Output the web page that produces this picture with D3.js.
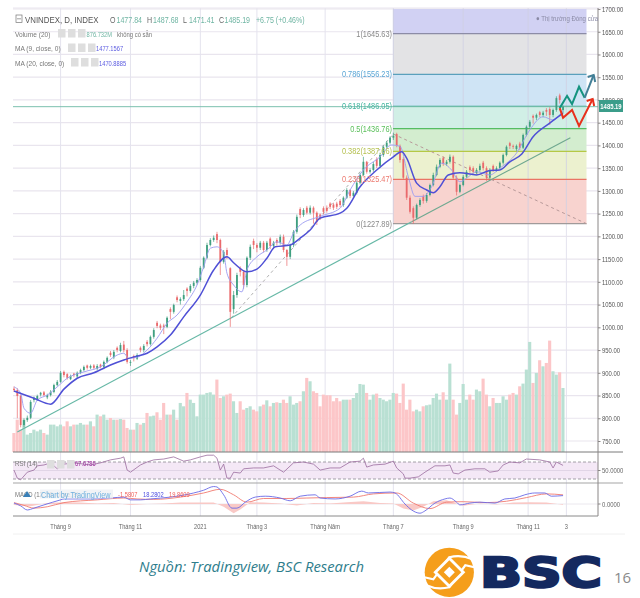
<!DOCTYPE html>
<html>
<head>
<meta charset="utf-8">
<script src="https://cdn.jsdelivr.net/npm/d3@7"></script>
<style>
  html, body { margin: 0; padding: 0; background: #fff; }
  svg { display: block; }
  .chart { filter: blur(0.45px); }
  text { font-family: "Liberation Sans", sans-serif; }
</style>
</head>
<body>
<div id="chart"></div>
<script>
// candles, every second trading day
const opens = [
  865,862,849,785,796,801,840,841,852,857,
  846,851,858,873,880,902,897,886,898,892,
  900,906,916,911,916,909,918,913,924,944,
  934,955,948,962,950,922,937,931,955,950,
  968,963,979,1010,1004,1004,1001,1040,1034,1066,
  1058,1062,1085,1080,1091,1098,1104,1131,1153,1181,
  1192,1205,1192,1144,1170,1130,1040,1071,1130,1122,
  1093,1153,1190,1181,1175,1186,1170,1195,1179,1192,
  1186,1199,1170,1155,1181,1210,1260,1247,1263,1252,
  1263,1252,1248,1262,1263,1272,1270,1272,1278,1269,
  1285,1302,1289,1296,1318,1335,1364,1342,1346,1370,
  1355,1379,1397,1406,1417,1425,1399,1370,1329,1285,
  1262,1241,1269,1288,1278,1291,1313,1335,1353,1372,
  1359,1364,1375,1329,1298,1313,1331,1352,1350,1340,
  1346,1362,1350,1329,1355,1346,1350,1362,1379,1405,
  1399,1392,1404,1395,1423,1441,1465,1461,1473,1467,
  1478,1480,1467,1478,1510,1477.84];
const highs = [
  870,866,852,800,806,840,848,852,858,860,
  854,862,876,884,904,905,899,896,900,903,
  909,916,918,918,919,919,920,927,936,948,
  950,958,966,970,954,928,940,943,958,963,
  972,982,998,1014,1008,1008,1024,1044,1052,1070,
  1066,1082,1088,1095,1102,1108,1135,1156,1186,1196,
  1202,1210,1195,1170,1175,1132,1080,1120,1134,1126,
  1156,1182,1195,1185,1190,1190,1190,1198,1190,1196,
  1204,1204,1172,1184,1214,1248,1264,1262,1267,1268,
  1266,1255,1250,1266,1268,1275,1274,1276,1282,1288,
  1306,1304,1300,1322,1340,1375,1366,1350,1364,1374,
  1384,1400,1410,1420,1428,1428,1402,1374,1334,1290,
  1266,1272,1284,1292,1295,1316,1340,1358,1372,1376,
  1368,1380,1378,1334,1316,1335,1346,1356,1354,1350,
  1360,1366,1354,1350,1358,1354,1365,1382,1400,1408,
  1402,1402,1408,1426,1444,1456,1468,1470,1476,1476,
  1482,1484,1481,1508,1514,1487.68];
const lows = [
  858,800,780,780,792,798,835,838,848,848,
  842,848,855,870,878,890,885,884,890,888,
  897,903,907,908,907,905,910,908,921,935,
  930,945,945,945,920,915,925,928,945,945,
  958,960,975,998,994,985,998,1018,1030,1055,
  1050,1058,1068,1076,1086,1094,1100,1128,1150,1178,
  1188,1185,1115,1140,1150,1001,1030,1065,1112,1085,
  1088,1148,1172,1165,1170,1165,1166,1172,1172,1180,
  1182,1165,1135,1150,1176,1206,1240,1243,1248,1248,
  1228,1225,1236,1248,1252,1260,1258,1260,1264,1265,
  1282,1284,1284,1292,1314,1332,1338,1338,1342,1350,
  1350,1375,1392,1402,1412,1396,1362,1325,1280,1250,
  1228,1238,1265,1272,1274,1288,1310,1332,1350,1355,
  1355,1360,1325,1290,1295,1310,1328,1340,1338,1336,
  1342,1345,1322,1325,1342,1342,1347,1358,1376,1392,
  1392,1388,1390,1392,1420,1438,1448,1456,1462,1462,
  1465,1445,1462,1474,1492,1471.41];
const closes = [
  862,849,785,796,801,836,845,849,856,851,
  851,858,873,880,900,895,889,893,895,900,
  906,913,911,915,911,915,913,924,933,939,
  946,950,961,950,924,924,933,939,950,959,
  963,979,994,1003,999,1001,1021,1034,1049,1060,
  1062,1071,1080,1091,1098,1104,1131,1153,1181,1192,
  1197,1192,1144,1166,1159,1034,1071,1115,1122,1093,
  1153,1177,1181,1175,1186,1170,1186,1179,1186,1186,
  1199,1170,1155,1181,1210,1243,1247,1258,1252,1263,
  1252,1232,1241,1254,1256,1265,1263,1265,1269,1285,
  1302,1289,1296,1318,1335,1364,1342,1346,1359,1355,
  1379,1397,1406,1417,1421,1399,1368,1329,1285,1254,
  1241,1269,1280,1278,1291,1313,1335,1353,1368,1359,
  1364,1375,1329,1298,1313,1331,1342,1346,1342,1346,
  1355,1350,1329,1346,1346,1350,1362,1379,1397,1399,
  1397,1399,1395,1423,1441,1452,1461,1467,1467,1472,
  1474,1467,1478,1504,1500,1485.19];
// volume in millions
const volumes = [
  260,443,306,443,238,260,306,283,306,260,
  238,375,375,352,375,352,420,352,375,375,
  398,375,375,420,352,512,489,512,443,466,
  443,443,452,443,329,306,306,398,375,398,
  535,489,498,544,443,672,512,512,580,443,
  672,626,809,717,672,489,786,786,809,818,
  786,992,740,763,786,800,695,535,695,580,
  603,626,580,557,626,649,708,626,672,681,
  672,717,672,763,649,672,695,832,1015,969,
  832,809,626,786,777,777,695,740,695,717,
  717,717,740,809,932,923,809,717,786,800,
  740,717,695,717,809,800,672,937,580,717,
  557,580,557,626,640,649,740,800,717,818,
  717,1211,717,512,672,932,717,786,717,855,
  832,1005,786,626,740,672,672,763,717,786,
  809,786,900,937,1129,1508,946,1083,1257,1174,
  1220,1526,1106,1060,1092,876.7];

const ma20Days = [0,6,11,15,19,24,29,33,36,40,43,47,51,56,60,64,66,70,73,76,78.5,83,86,89,92,98,100,104,109,114,116.5,118,121,124,126,128,130.5,134,139,143,146,149,152.6,156,161,165];
const ma20Values = [860,844,831,864,888,900,917,928,935,943,957,983,1023,1071,1126,1155,1142,1122,1128,1152,1177,1181,1196,1214,1240,1251,1262,1309,1346,1375,1386,1372,1317,1302,1296,1309,1335,1340,1335,1345,1346,1364,1381,1419,1449,1470.89];
const ma9Days = [0,2,3,5,7,10,13,16,21,26,31,33,34.5,37,40,43,46,49,52,55,57,59,61,63,64,66,68.5,70,73,76,79,82,84,86,92,98,101,105,110,113.5,116,118.5,120.5,123,125.5,128.5,131.5,134,136,139,143,146,151,155,159,162,165];
const ma9Values = [869,855,822,811,840,851,869,888,902,913,939,943,932,934,950,976,1009,1027,1056,1093,1133,1174,1177,1163,1119,1093,1078,1126,1155,1170,1188,1181,1207,1225,1244,1262,1302,1346,1375,1401,1398,1331,1288,1288,1309,1361,1346,1320,1328,1342,1335,1350,1383,1434,1463,1456,1477.16];

const rsiDays = [0,1,2,4,6,7,9,11,13,14,15,18,23,26,29,32,33,34,35,38,40,42,45,48,51,53,56,58,60,61,62,63,64,65,66,68,69,72,75,78,81,84,87,90,92,95,98,101,104,105,106,108,111.5,114,115,117,117.5,119,121.5,123.5,126.5,129.5,131,132,133.5,135.5,138.5,141.5,143,145.5,147,149,152,153.5,154,158,161,162,163,165];
const rsiValues = [51,32,28,46,51,61,63,68,54,61,65,68,63,68,75,79,82,51,46,63,70,75,77,82,72,75,82,86,86,79,51,65,32,32,46,44,54,56,56,61,46,68,70,65,51,56,56,70,72,79,58,63,65,72,56,42,32,32,35,46,61,61,63,44,42,51,54,54,46,49,63,70,68,75,77,75,70,56,70,62];

const macdDays = [0,2,4,6,9,14,15,23,29,33,35,38,41,47,54,57,60,61,63,65.5,67,69.5,72.5,75.5,80,83,86,90.5,92,96.5,101,104.5,106.5,113,114.5,117.5,119.5,122,123.5,126.5,129.5,131,133,134,137,140,144.5,147.5,150.5,153.5,156.5,159.5,161.5,165];
const macdValues = [2,-4,-13,-9,-2,9,11,11,13,15,9,9,11,15,24,30,38,37,20,-9,-9,4,15,17,13,7,17,20,13,11,17,28,24,26,24,0,-13,-20,-15,2,11,13,4,-2,2,4,2,11,13,20,24,24,17,18.28];
const signalDays = [0,3,6,10,15,25,33,37,42,50,57,62,66,70,75,82,88,94,102,108,115,120,125,130,135,142,148,154,160,165];
const signalValues = [3,-3,-9,-6,3,9,13,11,10,15,24,32,20,4,12,12,13,14,15,22,24,2,-10,4,5,3,6,14,22,19.86];
const histDays = [0,5,10,15,20,25,30,35,40,45,50,55,60,63,66,68,71,75,80,85,90,95,100,105,110,114,117,120,123,126,130,135,140,145,150,155,160,165];
const histValues = [-2,-5,2,4,3,1,2,-2,0,1,3,3,3,-6,-20,-12,4,3,1,-3,2,1,4,6,2,1,-10,-14,-6,6,8,-4,1,-1,3,4,3,-1.58];

const priceTicks = [750,800,850,900,950,1000,1050,1100,1150,1200,1250,1300,1350,1400,1450,1500,1550,1600,1650,1700];
const timeTicks = [14,35,56,73,93.5,114,135,154.5,166];
const timeLabels = ["Tháng 9","Tháng 11","2021","Tháng 3","Tháng Năm","Tháng 7","Tháng 9","Tháng 11","3"];

const fibPrices = [1645.63,1556.23,1486.05,1436.76,1387,1325.47,1227.89];
const fibLabels = ["1(1645.63)","0.786(1556.23)","0.618(1486.05)","0.5(1436.76)","0.382(1387.66)","0.236(1325.47)","0(1227.89)"];
const fibLineColors = ["#8c8ca6","#5aa0bc","#35a58e","#55bd62","#b5c845","#ea7464","#a09a9a"];
const fibTextColors = ["#8a8a8a","#5aa5d5","#45b5a0","#5cc05c","#b5c050","#ec7a70","#8a8a8a"];
const fibFills = ["#d1d1f3","#e3e3e5","#cfe4f5","#d1efe6","#d3edcf","#ecf1cf","#f8d3cf"];

const teal1Days = [164,166.2,167.7,169.8,171.5], teal1Prices = [1482,1509,1491,1529,1505];
const blueDays = [171.5,174.2], bluePrices = [1505,1555];
const redDays = [164,165,167.7,169.8,173.9], redPrices = [1482,1461,1478,1443,1502];

const width = 640, height = 598;
const plotLeft = 13, plotRight = 598, plotTop = 8, mainBottom = 452, rsiBottom = 483, plotBottom = 516;

const svg = d3.select("#chart").append("svg").attr("width", width).attr("height", height);
const g = svg.append("g").attr("class", "chart");

const x = d3.scaleLinear().domain([-0.3, 175.5]).range([plotLeft, plotRight]);
const y = d3.scaleLinear().domain([750, 1700]).range([441, 9]);
const yVol = d3.scaleLinear().domain([0, 1000]).range([mainBottom, mainBottom - 73]);
const yRsi = d3.scaleLinear().domain([30, 70]).range([479, 462]);
const yMacd = d3.scaleLinear().domain([0, 18.28]).range([504, 495.6]);

// grid
g.selectAll(".hgrid").data(priceTicks).enter().append("line")
  .attr("x1", plotLeft).attr("x2", plotRight).attr("y1", d => y(d)).attr("y2", d => y(d))
  .attr("stroke", "#e9e5ee").attr("stroke-width", 1.2);
g.selectAll(".vgrid").data(timeTicks).enter().append("line")
  .attr("x1", d => x(d)).attr("x2", d => x(d)).attr("y1", plotTop).attr("y2", plotBottom)
  .attr("stroke", "#e4e3ee").attr("stroke-width", 1);

// fibonacci zones
const fibLeft = 393, fibRight = 586.5;
const fibTops = [1700].concat(fibPrices.slice(0, -1));
const fibBottoms = fibPrices.slice();
g.selectAll(".fibzone").data(fibFills).enter().append("rect")
  .attr("x", fibLeft).attr("width", fibRight - fibLeft)
  .attr("y", (d, i) => y(fibTops[i])).attr("height", (d, i) => y(fibBottoms[i]) - y(fibTops[i]))
  .attr("fill", d => d);
g.selectAll(".vgrid2").data(timeTicks.filter(d => x(d) > fibLeft && x(d) < fibRight)).enter().append("line")
  .attr("x1", d => x(d)).attr("x2", d => x(d)).attr("y1", plotTop).attr("y2", 224)
  .attr("stroke", "#cfd0e2").attr("stroke-width", 0.8);
g.selectAll(".fibline").data(fibPrices).enter().append("line")
  .attr("x1", fibLeft).attr("x2", fibRight).attr("y1", d => y(d)).attr("y2", d => y(d))
  .attr("stroke", (d, i) => fibLineColors[i]).attr("stroke-width", 1.2);

// last price line
g.append("line").attr("x1", plotLeft).attr("x2", plotRight).attr("y1", y(1485.19)).attr("y2", y(1485.19))
  .attr("stroke", "#7cc0ae").attr("stroke-width", 1);

// volume
const barW = x(1) - x(0);
const isUp = i => closes[i] >= opens[i];
g.selectAll(".vol").data(volumes).enter().append("rect")
  .attr("x", (d, i) => x(i) - barW / 2).attr("width", barW - 0.2)
  .attr("y", d => yVol(d)).attr("height", d => mainBottom - yVol(d))
  .attr("fill", (d, i) => isUp(i) ? "#b9e0d3" : "#fcc6c8");

// dashed helper lines
const dashLine = d3.line().x(d => x(d[0])).y(d => y(d[1]));
g.append("path").attr("d", dashLine([[65.3,1021],[114,1425]]))
  .attr("fill", "none").attr("stroke", "#a8a8a8").attr("stroke-width", 0.9).attr("stroke-dasharray", "3,3");
g.append("path").attr("d", dashLine([[114,1425],[172,1228]]))
  .attr("fill", "none").attr("stroke", "#b89a9a").attr("stroke-width", 1).attr("stroke-dasharray", "3,3");

// trend lines
g.append("path").attr("d", dashLine([[1,770],[119.5,1232]]))
  .attr("fill", "none").attr("stroke", "#66b8a6").attr("stroke-width", 1.2);
g.append("path").attr("d", dashLine([[119.5,1232],[167.2,1417]]))
  .attr("fill", "none").attr("stroke", "#6fa890").attr("stroke-width", 1.2);

// candles
const candleColor = i => isUp(i) ? "#3f9f80" : "#ea6a6c";
g.selectAll(".wick").data(closes).enter().append("line")
  .attr("x1", (d, i) => x(i)).attr("x2", (d, i) => x(i))
  .attr("y1", (d, i) => y(highs[i])).attr("y2", (d, i) => y(lows[i]))
  .attr("stroke", (d, i) => candleColor(i)).attr("stroke-width", 0.7);
g.selectAll(".body").data(closes).enter().append("rect")
  .attr("x", (d, i) => x(i) - 0.9).attr("width", 1.8)
  .attr("y", (d, i) => y(Math.max(opens[i], d)))
  .attr("height", (d, i) => Math.max(0.8, Math.abs(y(opens[i]) - y(d))))
  .attr("fill", (d, i) => candleColor(i));

// moving averages
const pairLine = d3.line().x(d => x(d[0])).y(d => y(d[1])).curve(d3.curveMonotoneX);
g.append("path").attr("d", pairLine(d3.zip(ma9Days, ma9Values)))
  .attr("fill", "none").attr("stroke", "#9b9bf0").attr("stroke-width", 0.9);
g.append("path").attr("d", pairLine(d3.zip(ma20Days, ma20Values)))
  .attr("fill", "none").attr("stroke", "#4f50d6").attr("stroke-width", 1.5);

// forecast arrows
function arrowPath(days, prices, color, head) {
  g.append("path").attr("d", d3.line().x(d => x(d[0])).y(d => y(d[1]))(d3.zip(days, prices)))
    .attr("fill", "none").attr("stroke", color).attr("stroke-width", 2).attr("stroke-linejoin", "miter");
  if (!head) return;
  const n = days.length - 1;
  const tx = x(days[n]), ty = y(prices[n]);
  g.append("path").attr("d", `M${tx - 6},${ty + 2}L${tx},${ty}L${tx + 1.5},${ty + 7}`)
    .attr("fill", "none").attr("stroke", color).attr("stroke-width", 2);
}
arrowPath(teal1Days, teal1Prices, "#14937f", false);
arrowPath(blueDays, bluePrices, "#427f96", true);
arrowPath(redDays, redPrices, "#e8301c", true);

// rsi pane
g.append("rect").attr("x", plotLeft).attr("width", plotRight - plotLeft)
  .attr("y", yRsi(70)).attr("height", yRsi(30) - yRsi(70)).attr("fill", "#f4e8f6");
[70, 30].forEach(v => g.append("line").attr("x1", plotLeft).attr("x2", plotRight)
  .attr("y1", yRsi(v)).attr("y2", yRsi(v))
  .attr("stroke", "#8e8a92").attr("stroke-width", 0.8).attr("stroke-dasharray", "3,2"));
g.append("line").attr("x1", plotLeft).attr("x2", plotRight).attr("y1", yRsi(50)).attr("y2", yRsi(50))
  .attr("stroke", "#dccfe2").attr("stroke-width", 0.8);
g.append("path")
  .attr("d", d3.line().x(d => x(d[0])).y(d => yRsi(d[1]))(d3.zip(rsiDays, rsiValues)))
  .attr("fill", "none").attr("stroke", "#9a6c9e").attr("stroke-width", 0.8);

// macd pane
g.append("line").attr("x1", plotLeft).attr("x2", plotRight).attr("y1", yMacd(0)).attr("y2", yMacd(0))
  .attr("stroke", "#e6e2ea").attr("stroke-width", 0.8);
g.append("path")
  .attr("d", d3.area().x(d => x(d[0])).y0(yMacd(0)).y1(d => yMacd(d[1]))(d3.zip(histDays, histValues)))
  .attr("fill", "#f9c9c6");
g.append("path").attr("d", d3.line().x(d => x(d[0])).y(d => yMacd(d[1])).curve(d3.curveMonotoneX)(d3.zip(signalDays, signalValues)))
  .attr("fill", "none").attr("stroke", "#f07a70").attr("stroke-width", 0.9);
g.append("path").attr("d", d3.line().x(d => x(d[0])).y(d => yMacd(d[1])).curve(d3.curveMonotoneX)(d3.zip(macdDays, macdValues)))
  .attr("fill", "none").attr("stroke", "#6a6ae6").attr("stroke-width", 0.9);

// pane borders and price axis
g.append("line").attr("x1", plotLeft).attr("x2", 623).attr("y1", mainBottom).attr("y2", mainBottom).attr("stroke", "#7a7a7a").attr("stroke-width", 1);
g.append("line").attr("x1", plotLeft).attr("x2", 623).attr("y1", rsiBottom).attr("y2", rsiBottom).attr("stroke", "#a5a5a5").attr("stroke-width", 1);
g.append("line").attr("x1", plotLeft).attr("x2", plotRight).attr("y1", plotBottom).attr("y2", plotBottom).attr("stroke", "#8a8a8a").attr("stroke-width", 1);
g.append("line").attr("x1", plotLeft).attr("x2", 622).attr("y1", plotTop).attr("y2", plotTop).attr("stroke", "#e9e5ee").attr("stroke-width", 1);
g.append("line").attr("x1", plotLeft).attr("x2", 625).attr("y1", 534).attr("y2", 534).attr("stroke", "#f0f0f0").attr("stroke-width", 1);

const axisG = g.append("g").attr("transform", `translate(${plotRight},0)`)
  .call(d3.axisRight(y).tickValues(priceTicks).tickFormat(d3.format(".2f")).tickSize(2.5).tickPadding(1.5));
axisG.select(".domain").attr("d", `M0,${plotTop}V${plotBottom}`).attr("stroke", "#8a8686").attr("stroke-width", 1);
axisG.selectAll("line").attr("stroke", "#8a8686");
axisG.selectAll("text").attr("fill", "#555").style("font-size", "7.2px").style("font-family", '"Liberation Sans"');

[[50, yRsi, "50.0000"], [0, yMacd, "0.0000"]].forEach(([v, sc, txt]) => {
  g.append("line").attr("x1", plotRight).attr("x2", plotRight + 2.5).attr("y1", sc(v)).attr("y2", sc(v)).attr("stroke", "#8a8686");
  g.append("text").attr("x", plotRight + 4).attr("y", sc(v) + 2.5).attr("fill", "#666").attr("font-size", 7.2).text(txt);
});

// time axis
g.selectAll(".tlabel").data(timeLabels).enter().append("text")
  .attr("x", (d, i) => x(timeTicks[i])).attr("y", 529)
  .attr("text-anchor", "middle").attr("fill", "#666").attr("font-size", 6.9).text(d => d);

// fib labels
g.selectAll(".fiblabel").data(fibLabels).enter().append("text")
  .attr("x", fibLeft - 1).attr("y", (d, i) => y(fibPrices[i]) + 3)
  .attr("text-anchor", "end").attr("fill", (d, i) => fibTextColors[i]).attr("font-size", 9).text(d => d);

// last price tag
g.append("rect").attr("x", 599).attr("y", 100).attr("width", 24).attr("height", 12).attr("fill", "#3b9d8a");
g.append("text").attr("x", 611).attr("y", 108.6).attr("text-anchor", "middle").attr("fill", "#fff")
  .attr("font-size", 7.2).attr("font-weight", "bold").text("1485.19");

g.append("text").attr("x", 536).attr("y", 20.5).attr("fill", "#8a8aa5").attr("font-size", 7.4).text("● Thị trường Đóng cửa");

// header legend
function label(px, py, txt, color, size) {
  g.append("text").attr("x", px).attr("y", py).attr("fill", color).attr("font-size", size).text(txt);
}
function iconBoxes(px, py) {
  [0, 1, 2].forEach(i => g.append("rect").attr("x", px + i * 10).attr("y", py).attr("width", 7.5).attr("height", 8.5).attr("fill", "#dedede"));
}
g.append("rect").attr("x", 16).attr("y", 15).attr("width", 6).attr("height", 7.5).attr("fill", "none").attr("stroke", "#777").attr("stroke-width", 0.7);
g.append("line").attr("x1", 17).attr("x2", 21).attr("y1", 18.8).attr("y2", 18.8).attr("stroke", "#777").attr("stroke-width", 0.7);
label(25, 23, "VNINDEX, D, INDEX", "#555", 9.6);
label(110, 23, "O", "#666", 8.6);
label(116.5, 23, "1477.84", "#6fb5a3", 8.6);
label(147, 23, "H", "#666", 8.6);
label(153, 23, "1487.68", "#6fb5a3", 8.6);
label(183, 23, "L", "#666", 8.6);
label(189, 23, "1471.41", "#6fb5a3", 8.6);
label(219, 23, "C", "#666", 8.6);
label(224.5, 23, "1485.19", "#6fb5a3", 8.6);
label(256, 23, "+6.75 (+0.46%)", "#6fb5a3", 8.6);

label(15, 36.5, "Volume (20)", "#777", 8);
iconBoxes(58, 29);
label(86.5, 36.5, "876.732M", "#6fb5a3", 7);
label(117, 36.5, "không có sẵn", "#777", 7.2);
label(15, 51, "MA (9, close, 0)", "#777", 8);
iconBoxes(68, 43.5);
label(96, 51, "1477.1567", "#5b5be0", 7);
label(15, 65.5, "MA (20, close, 0)", "#777", 8);
iconBoxes(71, 58);
label(99, 65.5, "1470.8885", "#5b5be0", 7);

// lower pane legends
label(15, 466, "RSI (14)", "#777", 7.4);
iconBoxes(47, 460);
label(75, 466, "67.6786", "#a030a0", 7);
label(15, 497, "MACD (12, 26, close, 9)", "#777", 7.3);
g.append("rect").attr("x", 40).attr("y", 489.5).attr("width", 73).attr("height", 9).attr("fill", "#eef0f4").attr("opacity", 0.8);
g.append("path").attr("d", "M23,497l4,-6l4,6z").attr("fill", "#3a80b8");
label(41, 497.5, "Chart by TradingView", "#6fb0de", 8.9);
label(118, 497, "-1.5807", "#f0605a", 7);
label(143, 497, "18.2802", "#5050e0", 7);
label(169, 497, "19.8609", "#f0605a", 7);

// no narrow face is installed, so squeeze the sans to the width the chart's labels have
g.selectAll("text").each(function () {
  const w = this.getComputedTextLength();
  this.setAttribute("textLength", w * 0.82);
  this.setAttribute("lengthAdjust", "spacingAndGlyphs");
});

// footer
svg.append("text").attr("x", 139).attr("y", 572)
  .style("font-family", '"Open Sans", "Noto Sans", sans-serif').style("font-style", "italic")
  .attr("font-size", 15).attr("fill", "#2e7d8c").attr("textLength", 225).attr("lengthAdjust", "spacingAndGlyphs")
  .text("Nguồn: Tradingview, BSC Research");

const logo = svg.append("g").attr("transform", "translate(449.3,572.3)");
logo.append("circle").attr("r", 24.6).attr("fill", "#f59e1b");
logo.append("path").attr("d", "M-25,5 L-16,7 L0,-15 Q12,-18 23,-13").attr("fill", "none").attr("stroke", "#fff").attr("stroke-width", 2.2);
logo.append("path").attr("d", "M25,-5 L16,-7 L0,15 Q-12,18 -23,13").attr("fill", "none").attr("stroke", "#fff").attr("stroke-width", 2.2);
logo.append("path").attr("d", "M0,-16L16,0L0,16L-16,0Z").attr("fill", "#fff");
logo.append("path").attr("d", "M0,-12L12,0L0,12L-12,0Z").attr("fill", "#f59e1b");
logo.append("path").attr("d", "M0,-5.5L5.5,0L0,5.5L-5.5,0Z").attr("fill", "#fff");

svg.append("text").attr("x", 480).attr("y", 587)
  .style("font-family", '"DejaVu Sans", sans-serif').attr("font-weight", "bold")
  .attr("font-size", 41).attr("fill", "#14295f").attr("stroke", "#14295f").attr("stroke-width", 2.4)
  .attr("textLength", 122).attr("lengthAdjust", "spacingAndGlyphs").text("BSC");

svg.append("text").attr("x", 614).attr("y", 583)
  .style("font-family", '"Open Sans", sans-serif').attr("font-size", 15).attr("fill", "#8a8a8a").text("16");
</script>
</body>
</html>
